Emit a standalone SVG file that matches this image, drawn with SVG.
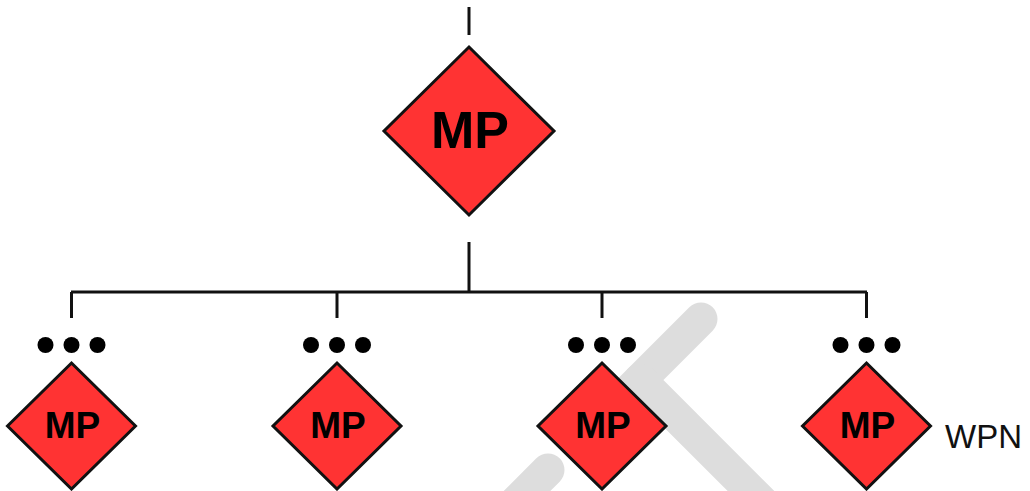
<svg xmlns="http://www.w3.org/2000/svg" width="1030" height="491" viewBox="0 0 1030 491">
  <style>
    .mp { fill: #ff3333; stroke: #111; stroke-width: 3; stroke-linejoin: miter; }
    .lbl { font-family: "Liberation Sans", Arial, sans-serif; font-weight: bold; fill: #000; text-anchor: middle; }
    .wire { stroke: #111; stroke-width: 3; fill: none; }
    .dot { fill: #000; }
    .mark { stroke: #dddddd; stroke-width: 33; stroke-linecap: round; fill: none; }
  </style>
  <defs>
    <polygon id="small" points="0,-63 64,0 0,63 -64,0"/>
    <g id="dots">
      <circle cx="-26" cy="0" r="8"/>
      <circle cx="0" cy="0" r="8"/>
      <circle cx="26" cy="0" r="8"/>
    </g>
  </defs>
  <rect width="1030" height="491" fill="#fff"/>

  <!-- light background mark -->
  <g id="backdrop">
    <line class="mark" x1="701" y1="319" x2="610" y2="410"/>
    <line class="mark" x1="640" y1="380" x2="780" y2="520"/>
    <line class="mark" x1="548" y1="470" x2="500" y2="518"/>
  </g>

  <g id="connectors">
    <line class="wire" x1="469" y1="7" x2="469" y2="35" stroke-width="4"/>
    <line class="wire" x1="469" y1="242" x2="469" y2="292"/>
    <line class="wire" x1="71" y1="292" x2="867" y2="292"/>
    <line class="wire" x1="71.5" y1="292" x2="71.5" y2="318"/>
    <line class="wire" x1="337" y1="292" x2="337" y2="318"/>
    <line class="wire" x1="602" y1="292" x2="602" y2="318"/>
    <line class="wire" x1="866.5" y1="292" x2="866.5" y2="318"/>
  </g>

  <g id="mp-root">
    <polygon class="mp" points="469,47 554,131 469,215 384,131"/>
    <text class="lbl" x="470" y="148" font-size="52">MP</text>
  </g>

  <g id="mp-1">
    <use href="#dots" class="dot" x="71.5" y="345"/>
    <use href="#small" class="mp" x="71.5" y="426"/>
    <text class="lbl" x="72.5" y="438" font-size="37">MP</text>
  </g>
  <g id="mp-2">
    <use href="#dots" class="dot" x="337" y="345"/>
    <use href="#small" class="mp" x="337" y="426"/>
    <text class="lbl" x="338" y="438" font-size="37">MP</text>
  </g>
  <g id="mp-3">
    <use href="#dots" class="dot" x="602" y="345"/>
    <use href="#small" class="mp" x="602" y="426"/>
    <text class="lbl" x="603" y="438" font-size="37">MP</text>
  </g>
  <g id="mp-4">
    <use href="#dots" class="dot" x="866.5" y="345"/>
    <use href="#small" class="mp" x="866.5" y="426"/>
    <text class="lbl" x="867.5" y="438" font-size="37">MP</text>
  </g>

  <g id="wpn-label">
    <text x="945" y="448" font-family="'Liberation Sans', Arial, sans-serif" font-size="33" fill="#111">WPN</text>
  </g>
</svg>
